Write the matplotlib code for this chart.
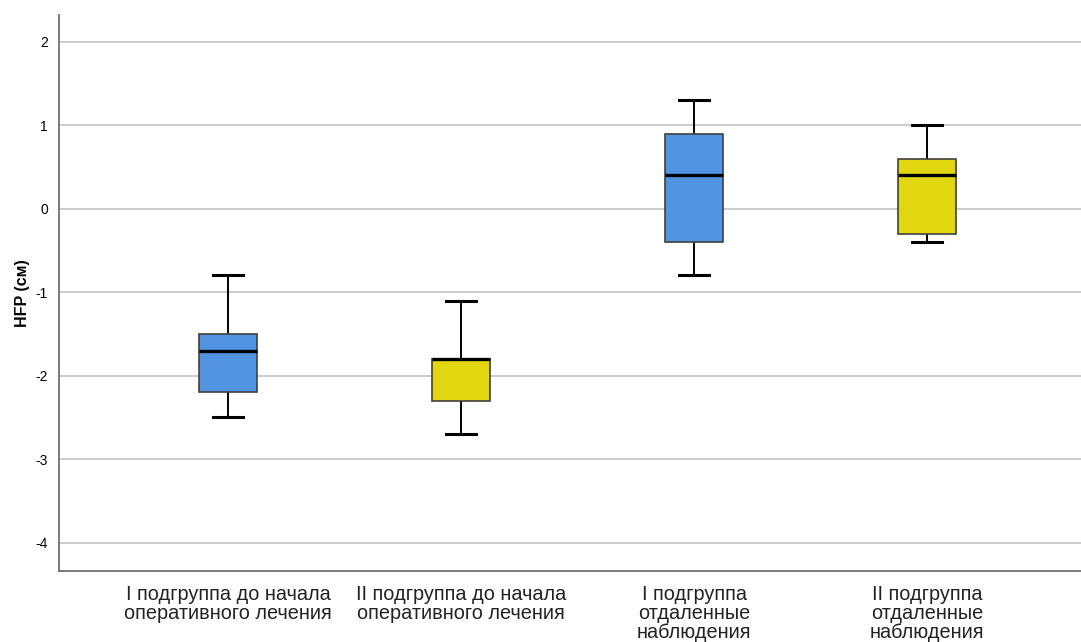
import matplotlib
matplotlib.use("Agg")
import matplotlib.pyplot as plt

# group labels and box statistics (HFP, cm)
groups = ["I подгруппа до начала\nоперативного лечения",
          "II подгруппа до начала\nоперативного лечения",
          "I подгруппа\nотдаленные\nнаблюдения",
          "II подгруппа\nотдаленные\nнаблюдения"]
whislo = [-2.5, -2.7, -0.8, -0.4]
q1 = [-2.2, -2.3, -0.4, -0.3]
med = [-1.7, -1.8, 0.4, 0.4]
q3 = [-1.5, -1.8, 0.9, 0.6]
whishi = [-0.8, -1.1, 1.3, 1.0]
colors = ["#5294e2", "#e1d711", "#5294e2", "#e1d711"]
yticks = [2, 1, 0, -1, -2, -3, -4]

plt.rcParams['font.family'] = ['Liberation Sans', 'DejaVu Sans']

stats = []
for i in range(len(groups)):
    stats.append({"whislo": whislo[i], "q1": q1[i], "med": med[i],
                  "q3": q3[i], "whishi": whishi[i], "fliers": []})

fig = plt.figure(figsize=(10.81, 6.42), dpi=100)
ax = fig.add_axes([59 / 1081, 71 / 642, 1 - 59 / 1081, 556 / 642])

bp = ax.bxp(stats, positions=range(len(groups)), widths=0.25,
            patch_artist=True, showfliers=False,
            boxprops=dict(edgecolor="#404040", linewidth=1.2),
            medianprops=dict(color="black", linewidth=2.4),
            whiskerprops=dict(color="black", linewidth=1.4),
            capprops=dict(color="black", linewidth=2.2),
            capwidths=0.13)
for patch, c in zip(bp["boxes"], colors):
    patch.set_facecolor(c)
for w in bp["whiskers"]:
    w.set_zorder(1)

ax.set_xlim(-0.725, 3.66)
ax.set_ylim(-4.34, 2.32)
ax.set_yticks(yticks)
ax.set_yticklabels([str(t) for t in yticks], fontsize=10)
ax.set_xticks(range(len(groups)))
ax.set_xticklabels(groups, fontsize=14.3, linespacing=1.0, color="#222222")
ax.tick_params(length=0, pad=8)
ax.tick_params(axis="x", pad=10)

ax.yaxis.grid(True, color="#c8c8c8", linewidth=1.3)
ax.set_axisbelow(True)
for s in ["top", "right"]:
    ax.spines[s].set_visible(False)
for s in ["left", "bottom"]:
    ax.spines[s].set_color("#707070")
    ax.spines[s].set_linewidth(1.3)

ax.set_ylabel("HFP (см)", fontsize=11.5, fontweight="bold", labelpad=4)

fig.savefig("out.png", dpi=100)
